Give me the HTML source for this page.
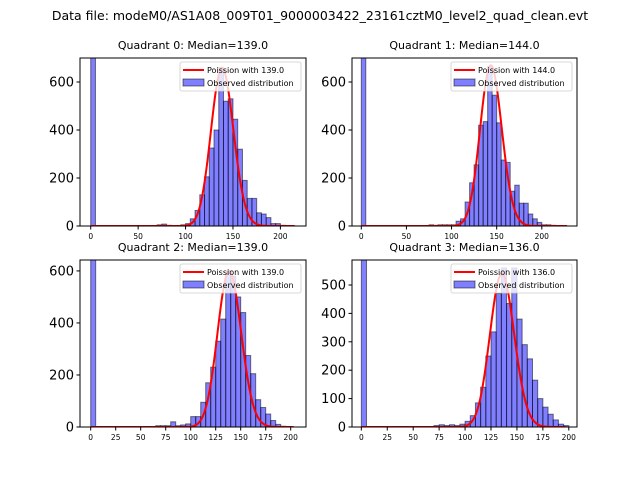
<!DOCTYPE html>
<html><head><meta charset="utf-8"><style>
body{margin:0;background:#fff;}
svg{display:block;font-family:"DejaVu Sans","Liberation Sans",sans-serif;}
</style></head><body>
<svg id="fig" width="640" height="480" xmlns="http://www.w3.org/2000/svg">
<rect width="640" height="480" fill="#fff"/>
<text x="320" y="20" text-anchor="middle" font-size="12.5">Data file: modeM0/AS1A08_009T01_9000003422_23161cztM0_level2_quad_clean.evt</text>
</svg>
<script>
// ---- data ----
const titles = ["Quadrant 0: Median=139.0","Quadrant 1: Median=144.0","Quadrant 2: Median=139.0","Quadrant 3: Median=136.0"];
const medians = [139, 144, 139, 136];
const binWidth = 5;
const zeroCounts = [5000, 5000, 5000, 5000];
const binStarts0 = [70,75,80,85,90,95,100,105,110,115,120,125,130,135,140,145,150,155,160,165,170,175,180,185,190,195,200,205,210];
const counts0 = [5,8,3,0,2,5,10,30,65,130,205,325,400,660,520,530,445,320,190,115,115,55,50,35,10,10,3,2,1];
const binStarts1 = [75,80,85,90,95,100,105,110,115,120,125,130,135,140,145,150,155,160,165,170,175,180,185,190,195,200,205,210,215,220];
const counts1 = [5,3,5,5,5,5,20,30,100,180,255,420,435,665,545,430,275,265,145,170,95,95,50,30,15,5,5,3,2,1];
const binStarts2 = [65,70,75,80,85,90,95,100,105,110,115,120,125,130,135,140,145,150,155,160,165,170,175,180,185,190,195];
const counts2 = [5,5,5,20,5,8,12,40,40,95,170,230,330,415,590,580,500,440,275,205,105,75,50,25,10,3,1];
const binStarts3 = [70,75,80,85,90,95,100,105,110,115,120,125,130,135,140,145,150,155,160,165,170,175,180,185,190,195];
const counts3 = [5,8,5,8,5,10,20,40,85,140,250,335,470,560,435,560,380,290,240,165,100,70,45,25,10,5];
const poissonTotals = [19500, 20150, 17750, 15800];
const curveMax = [215, 228, 203, 197];
const xTicks01 = [0,50,100,150,200];
const xTicks23 = [0,25,50,75,100,125,150,175,200];
const yTicks012 = [0,200,400,600];
const yTicks3 = [0,100,200,300,400,500];

// ---- layout (axes frames) ----
const axes = [
  {l:80,r:306,t:58,b:226,xmin:-11.3,xmax:227,ymax:700,xt:xTicks01,yt:yTicks012,bs:binStarts0,c:counts0},
  {l:352,r:577,t:58,b:226,xmin:-10.3,xmax:239,ymax:700,xt:xTicks01,yt:yTicks012,bs:binStarts1,c:counts1},
  {l:80,r:306,t:260,b:427,xmin:-10.7,xmax:215.3,ymax:642,xt:xTicks23,yt:yTicks012,bs:binStarts2,c:counts2},
  {l:352,r:577,t:260,b:427,xmin:-9.0,xmax:207.9,ymax:588,xt:xTicks23,yt:yTicks3,bs:binStarts3,c:counts3}
];
const NS="http://www.w3.org/2000/svg";
const svg=document.getElementById('fig');
function mk(tag,attrs,parent){const e=document.createElementNS(NS,tag);for(const k in attrs)e.setAttribute(k,attrs[k]);(parent||svg).appendChild(e);return e;}
function logPmf(k,m){let lf=0;for(let i=2;i<=k;i++)lf+=Math.log(i);return k*Math.log(m)-m-lf;}

axes.forEach((a,q)=>{
  const X=v=>a.l+(v-a.xmin)/(a.xmax-a.xmin)*(a.r-a.l);
  const Y=v=>a.b-v/a.ymax*(a.b-a.t);
  const g=mk('g',{});
  
  
  const cp=mk('clipPath',{id:'cp'+q},g);
  mk('rect',{x:a.l,y:a.t,width:a.r-a.l,height:a.b-a.t},cp);
  const bars=mk('g',{'clip-path':'url(#cp'+q+')'},g);
  const bz=mk('rect',{x:X(0),y:Y(zeroCounts[q]),width:X(binWidth)-X(0),height:Y(0)-Y(zeroCounts[q]),fill:'rgba(0,0,255,0.5)',stroke:'rgba(0,0,0,0.5)','stroke-width':1},bars);
  
  
  a.bs.forEach((s,i)=>{
    const v=a.c[i]; if(v<=0)return;
    const r=mk('rect',{x:X(s),y:Y(v),width:X(s+binWidth)-X(s),height:Y(0)-Y(v),fill:'rgba(0,0,255,0.5)',stroke:'rgba(0,0,0,0.5)','stroke-width':1},bars);
    
    
  });
  let d='';
  for(let k=0;k<=curveMax[q];k++){const y=poissonTotals[q]*Math.exp(logPmf(k,medians[q]));d+=(k?'L':'M')+X(k).toFixed(2)+','+Y(y).toFixed(2);}
  const p=mk('path',{d:d,fill:'none',stroke:'red','stroke-width':2},bars);
  
  
  mk('rect',{x:a.l,y:a.t,width:a.r-a.l,height:a.b-a.t,fill:'none',stroke:'#000','stroke-width':1},g);
  a.xt.forEach(t=>{
    mk('line',{x1:X(t),x2:X(t),y1:a.b,y2:a.b+3.5,stroke:'#000'},g);
    const tx=mk('text',{x:X(t),y:a.b+13,'text-anchor':'middle','font-size':7.5},g);tx.textContent=t;
    
    
  });
  a.yt.forEach(t=>{
    mk('line',{x1:a.l-3.5,x2:a.l,y1:Y(t),y2:Y(t),stroke:'#000'},g);
    const tx=mk('text',{x:a.l-6,y:Y(t)+4.5,'text-anchor':'end','font-size':13},g);tx.textContent=t;
    
    
  });
  const ti=mk('text',{x:(a.l+a.r)/2,y:a.t-9,'text-anchor':'middle','font-size':11},g);ti.textContent=titles[q];
  
  
  // legend
  const lg=mk('g',{},g);
  
  
  const lx=a.r-126,ly=a.t+4;
  mk('rect',{x:lx,y:ly,width:121,height:29,rx:2,fill:'rgba(255,255,255,0.8)',stroke:'#ccc','stroke-width':0.8},lg);
  mk('line',{x1:lx+3,x2:lx+24,y1:ly+8,y2:ly+8,stroke:'red','stroke-width':2},lg);
  const t1=mk('text',{x:lx+27,y:ly+11,'font-size':8},lg);t1.textContent='Poission with '+medians[q].toFixed(1);
  mk('rect',{x:lx+3,y:ly+17,width:21,height:7,fill:'rgba(0,0,255,0.5)',stroke:'rgba(0,0,0,0.5)'},lg);
  const t2=mk('text',{x:lx+27,y:ly+24,'font-size':8},lg);t2.textContent='Observed distribution';
});
</script>
</body></html>
